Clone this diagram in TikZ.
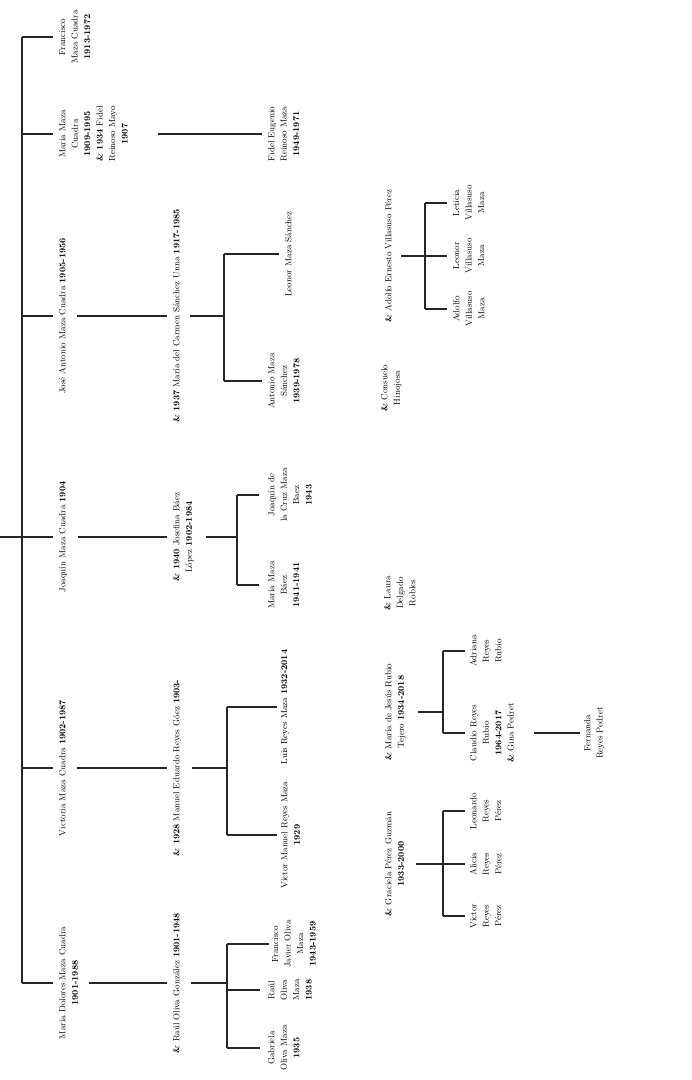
\documentclass[tikz,border=0pt]{standalone}
\usepackage{fontspec}
\newcommand\yr[1]{\textbf{#1}}
\begin{document}
\begin{tikzpicture}[x=1bp,y=-1bp,
  every node/.style={font=\fontsize{8.8}{12.5}\selectfont, align=center, rotate=90, anchor=north, inner sep=0pt},
  link/.style={line width=1.1bp, black!85}]
\useasboundingbox (0,0) rectangle (692,1080);
% generation 1
\node (francisco) at (59,37) {Francisco\\Maza Cuadra\\\yr{1913-1972}};
\node (mariamc) at (59,134) {María Maza\\Cuadra\\\yr{1909-1995}\\\yr{\& 1934} Fidel\\Reinoso Mayo\\\yr{1907}};
\node (joseantonio) at (59,316) {José Antonio Maza Cuadra \yr{1905-1956}};
\node (joaquin) at (59,537) {Joaquín Maza Cuadra \yr{1904}};
\node (victoria) at (59,768) {Victoria Maza Cuadra \yr{1902-1987}};
\node (mdolores) at (59,983) {María Dolores Maza Cuadra\\\yr{1901-1988}};
% spouses
\node (fidele) at (268,134) {Fidel Eugenio\\Reinoso Maza\\\yr{1949-1971}};
\node (mcarmen) at (173,316) {\yr{\& 1937} María del Carmen Sánchez Unna \yr{1917-1985}};
\node (josefina) at (173,537) {\yr{\& 1940} Josefina Báez\\López \yr{1902-1984}};
\node (manuel) at (173,768) {\yr{\& 1928} Manuel Eduardo Reyes Góez \yr{1903-}};
\node (raul) at (173,983) {\yr{\&} Raúl Oliva González \yr{1901-1948}};
% generation 2
\node (leonor) at (285,254) {Leonor Maza Sánchez};
\node (antonio) at (268,381) {Antonio Maza\\Sánchez\\\yr{1939-1978}};
\node (joaquincruz) at (268,495) {Joaquín de\\la Cruz Maza\\Baez\\\yr{1943}};
\node (mariamb) at (268,585) {María Maza\\Báez\\\yr{1941-1941}};
\node (luis) at (281,707) {Luis Reyes Maza \yr{1932-2014}};
\node (victorm) at (281,835) {Víctor Manuel Reyes Maza\\\yr{1929}};
\node (fjavier) at (272,944) {Francisco\\Javier Oliva\\Maza\\\yr{1943-1959}};
\node (raulo) at (268,990) {Raúl\\Oliva\\Maza\\\yr{1938}};
\node (gabriela) at (268,1048) {Gabriela\\Oliva Maza\\\yr{1935}};
% spouses of generation 2
\node (consuelo) at (381,388) {\yr{\&} Consuelo\\Hinojosa};
\node (adolfoe) at (385,256) {\yr{\&} Adolfo Ernesto Villasuso Pérez};
\node (laura) at (384,593) {\yr{\&} Laura\\Delgado\\Robles};
\node (mjesus) at (385,712) {\yr{\&} María de Jesús Rubio\\Tejero \yr{1934-2018}};
\node (graciela) at (385,864) {\yr{\&} Graciela Pérez Guzmán\\\yr{1933-2000}};
% generation 3
\node (leticia) at (453,203) {Leticia\\Villasuso\\Maza};
\node (leonorv) at (453,256) {Leonor\\Villasuso\\Maza};
\node (adolfov) at (453,309) {Adolfo\\Villasuso\\Maza};
\node (adriana) at (470,651) {Adriana\\Reyes\\Rubio};
\node (claudio) at (470,733) {Claudio Reyes\\Rubio\\\yr{1964-2017}\\\yr{\&} Gina Pedret};
\node (leonardo) at (470,811) {Leonardo\\Reyes\\Pérez};
\node (alicia) at (470,864) {Alicia\\Reyes\\Pérez};
\node (victorrp) at (470,916) {Víctor\\Reyes\\Pérez};
% generation 4
\node (fernanda) at (584,733) {Fernanda\\Reyes Pedret};
% junction coordinates
\coordinate (root) at (0,537);
\coordinate (sp) at (22,537);
\coordinate (bja) at (224,316);
\coordinate (bjq) at (237,537);
\coordinate (bv) at (227,768);
\coordinate (bmd) at (227,983);
\coordinate (bae) at (425,256);
\coordinate (bmj) at (443,712);
\coordinate (bgr) at (443,864);
% spine
\draw[link] (root) -- (sp);
\draw[link] (sp |- francisco) -- (sp |- mdolores);
\foreach \n in {francisco,mariamc,joseantonio,joaquin,victoria,mdolores}
  \draw[link, shorten >=6bp] (sp |- \n) -- (\n.north);
% gen1 to spouse
\draw[link, shorten <=30bp, shorten >=6bp] (mariamc.south) -- (fidele.north);
\foreach \a/\b in {joseantonio/mcarmen,joaquin/josefina,victoria/manuel,mdolores/raul}
  \draw[link, shorten <=11bp, shorten >=6bp] (\a.south) -- (\b.north);
% José Antonio family
\draw[link, shorten <=10bp] (mcarmen.south) -- (bja);
\draw[link] (bja |- leonor) -- (bja |- antonio);
\draw[link, shorten >=6bp] (bja |- leonor) -- (leonor.north);
\draw[link, shorten >=6bp] (bja |- antonio) -- (antonio.north);
% Joaquín family
\draw[link, shorten <=12bp] (josefina.south) -- (bjq);
\draw[link] (bjq |- joaquincruz) -- (bjq |- mariamb);
\draw[link, shorten >=9bp] (bjq |- joaquincruz) -- (joaquincruz.north);
\draw[link, shorten >=9bp] (bjq |- mariamb) -- (mariamb.north);
% Victoria family
\draw[link, shorten <=11bp] (manuel.south) -- (bv);
\draw[link] (bv |- luis) -- (bv |- victorm);
\draw[link, shorten >=4bp] (bv |- luis) -- (luis.north);
\draw[link, shorten >=4bp] (bv |- victorm) -- (victorm.north);
% María Dolores family
\draw[link, shorten <=11bp] (raul.south) -- (bmd);
\draw[link] (bmd |- fjavier) -- (bmd |- gabriela);
\draw[link, shorten >=3bp] (bmd |- fjavier) -- (fjavier.north);
\draw[link, shorten >=8bp] (bmd |- raulo) -- (raulo.north);
\draw[link, shorten >=8bp] (bmd |- gabriela) -- (gabriela.north);
% Villasuso family
\draw[link, shorten <=9bp] (adolfoe.south) -- (bae);
\draw[link] (bae |- leticia) -- (bae |- adolfov);
\foreach \n in {leticia,leonorv,adolfov}
  \draw[link, shorten >=6bp] (bae |- \n) -- (\n.north);
% Rubio family
\draw[link, shorten <=12bp] (mjesus.south) -- (bmj);
\draw[link] (bmj |- adriana) -- (bmj |- claudio);
\foreach \n in {adriana,claudio}
  \draw[link, shorten >=5bp] (bmj |- \n) -- (\n.north);
\draw[link, shorten <=20bp, shorten >=4bp] (claudio.south) -- (fernanda.north);
% Pérez family
\draw[link, shorten <=12bp] (graciela.south) -- (bgr);
\draw[link] (bgr |- leonardo) -- (bgr |- victorrp);
\foreach \n in {leonardo,alicia,victorrp}
  \draw[link, shorten >=5bp] (bgr |- \n) -- (\n.north);
\end{tikzpicture}
\end{document}
